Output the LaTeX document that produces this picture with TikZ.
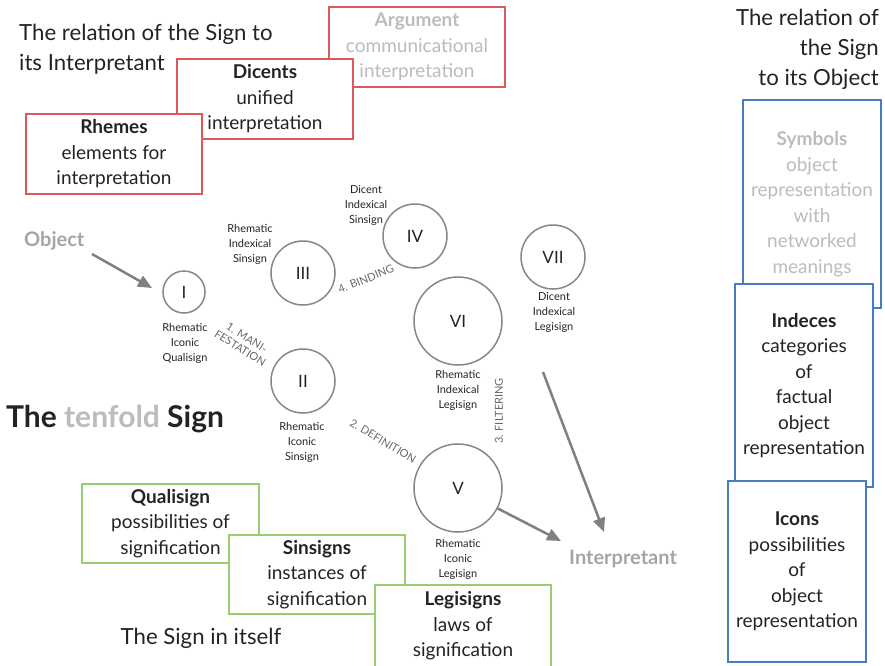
\documentclass[tikz,border=0pt]{standalone}
\usepackage{fontspec}
\setmainfont{Lato}
\usetikzlibrary{arrows.meta}
\definecolor{redc}{RGB}{221,88,88}
\definecolor{bluec}{RGB}{72,125,195}
\definecolor{greenc}{RGB}{150,205,110}
\definecolor{circc}{RGB}{135,135,135}
\definecolor{arrc}{RGB}{128,128,128}
\definecolor{lightc}{RGB}{188,188,188}
\definecolor{objc}{RGB}{165,165,165}
\definecolor{procc}{RGB}{105,105,105}
\definecolor{txt}{RGB}{35,35,35}
\begin{document}
\begin{tikzpicture}[x=1pt,y=-1pt,
  box/.style={draw, fill=white, line width=1.2pt, minimum width=176pt, minimum height=80pt,
    align=center, inner sep=0pt, text=txt, font=\fontsize{19}{25.5}\selectfont},
  redbox/.style={box, draw=redc},
  greenbox/.style={box, draw=greenc},
  bluebox/.style={box, draw=bluec, minimum width=138pt},
  sgn/.style={circle, draw=circc, line width=1.5pt, inner sep=0pt, text=txt,
    font=\fontsize{17}{20}\selectfont},
  lbl/.style={align=center, inner sep=0pt, text=txt, font=\fontsize{11}{15}\selectfont},
  proc/.style={align=center, inner sep=0pt, text=procc, font=\fontsize{11}{12.5}\selectfont},
  ttl/.style={inner sep=0pt, text=txt, font=\fontsize{22.2}{30}\selectfont},
  pole/.style={inner sep=0pt, text=objc, font=\bfseries\fontsize{20}{22}\selectfont},
  arr/.style={draw=arrc, line width=2.5pt, -{Triangle[length=14pt,width=12pt]}}
]
\useasboundingbox (0,0) rectangle (885,665);

% titles
\node[ttl, anchor=west, align=left] (tint) at (19,49.5) {The relation of the Sign to\\its Interpretant};
\node[ttl, anchor=east, align=right] (tobj) at (879,49.5) {The relation of\\the Sign\\to its Object};
\node[ttl] (tself) at (201,638) {The Sign in itself};
\node[inner sep=0pt, anchor=west, text=txt, font=\bfseries\fontsize{30}{32}\selectfont] (tten) at (6,419)
  {The \textcolor{lightc}{tenfold} Sign};

% interpretant boxes
\node[redbox, text=lightc] (arg) at (417,47) {\textbf{Argument}\\communicational\\interpretation};
\node[redbox] (dic) at (265,99) {\textbf{Dicents}\\unified\\interpretation};
\node[redbox] (rhe) at (114,154) {\textbf{Rhemes}\\elements for\\interpretation};

% object boxes
\node[bluebox, text=lightc, minimum height=208pt] (sym) at (812,204)
  {\textbf{Symbols}\\object\\representation\\with\\networked\\meanings};
\node[bluebox, minimum height=203pt] (ind) at (804,385.5)
  {\textbf{Indeces}\\categories\\of\\factual\\object\\representation};
\node[bluebox, minimum height=181pt] (ico) at (797,571.5)
  {\textbf{Icons}\\possibilities\\of\\object\\representation};

% sign boxes
\node[greenbox, minimum width=177pt, minimum height=79pt] (qua) at (170.5,523.5)
  {\textbf{Qualisign}\\possibilities of\\signification};
\node[greenbox, minimum height=79pt] (sin) at (317,574.5)
  {\textbf{Sinsigns}\\instances of\\signification};
\node[greenbox, minimum height=82pt] (leg) at (463,626)
  {\textbf{Legisigns}\\laws of\\signification};

% circles
\node[sgn, minimum size=42pt] (c1) at (184,292) {I};
\node[sgn, minimum size=64pt] (c2) at (303,381) {II};
\node[sgn, minimum size=64pt] (c3) at (303,273) {III};
\node[sgn, minimum size=64pt] (c4) at (415,236) {IV};
\node[sgn, minimum size=88pt] (c5) at (458,488) {V};
\node[sgn, minimum size=88pt] (c6) at (458,321) {VI};
\node[sgn, minimum size=64pt] (c7) at (553,257) {VII};

% circle labels
\node[lbl] (l1) at (185,343) {Rhematic\\Iconic\\Qualisign};
\node[lbl] (l2) at (302,442) {Rhematic\\Iconic\\Sinsign};
\node[lbl] (l3) at (250,244) {Rhematic\\Indexical\\Sinsign};
\node[lbl] (l4) at (366,205.5) {Dicent\\Indexical\\Sinsign};
\node[lbl] (l5) at (458,559) {Rhematic\\Iconic\\Legisign};
\node[lbl] (l6) at (458,390) {Rhematic\\Indexical\\Legisign};
\node[lbl] (l7) at (554,312) {Dicent\\Indexical\\Legisign};

% process labels
\node[proc, rotate=-32] (p1) at (243.5,343) {1. MANI-\\FESTATION};
\node[proc, rotate=-31] (p2) at (383,441) {2. DEFINITION};
\node[proc, rotate=90] (p3) at (499,411) {3. FILTERING};
\node[proc, rotate=22] (p4) at (366,279) {4. BINDING};

% poles
\node[pole, anchor=west] (obj) at (24,241) {Object};
\node[pole, anchor=west] (intp) at (569,559) {Interpretant};

% arrows
\coordinate (oA) at (92,254);
\coordinate (oB) at (152,288);
\coordinate (vB) at (561,541);
\coordinate (sA) at (543,372);
\coordinate (sB) at (604,532);
\draw[arr] (oA) -- (oB);
\draw[arr] (c5) -- (vB);
\draw[arr] (sA) -- (sB);
\end{tikzpicture}
\end{document}
